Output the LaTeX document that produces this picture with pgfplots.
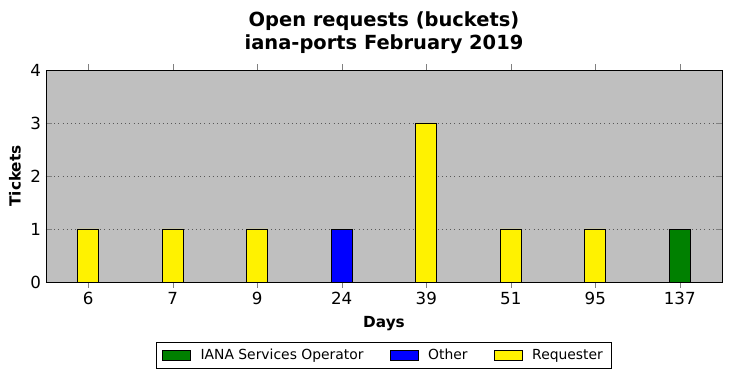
\documentclass[border=0pt]{standalone}
\usepackage{pgfplots}
\pgfplotsset{compat=1.18}
\usepackage{fontspec}
\setmainfont{DejaVu Sans}
\definecolor{bggray}{HTML}{BFBFBF}
\definecolor{mplgreen}{HTML}{008000}
\begin{document}
\begin{tikzpicture}[x=0.72pt,y=0.72pt]
\path (0,0) rectangle (732,378);
\begin{axis}[
  at={(33.12pt,69.12pt)}, anchor=south west,
  scale only axis, width=486.72pt, height=152.64pt,
  xmin=-0.5, xmax=7.5, ymin=0, ymax=4,
  xtick={0,...,7},
  xticklabels={6,7,9,24,39,51,95,137},
  ytick={0,1,2,3,4},
  tick align=inside, tick pos=both,
  major tick length=4pt,
  /pgf/number format/assume math mode=true,
  ticklabel style={font=\fontsize{12}{14}\selectfont},
  axis background/.style={fill=bggray},
  ymajorgrids, grid style={dash pattern=on 0.6pt off 2.4pt, gray!70!black, line width=0.5pt},
  axis line style={line width=0.7pt},
  title={\textbf{Open requests (buckets)}\\\textbf{iana-ports February 2019}},
  title style={align=center, font=\fontsize{14}{16}\selectfont, yshift=2.5pt},
  xlabel={\textbf{Days}}, ylabel={\textbf{Tickets}},
  label style={font=\fontsize{11}{13}\selectfont},
  xlabel style={yshift=-1pt}, ylabel style={yshift=0pt},
  ybar, bar width=0.25, bar shift=0pt,
  legend columns=3,
  legend style={at={(0.5,-0.3467)}, anchor=center, font=\fontsize{10}{12}\selectfont,
    draw=black, line width=0.6pt, inner xsep=4pt, inner ysep=3pt,
    /tikz/every odd column/.append style={column sep=5pt},
    /tikz/every even column/.append style={column sep=17pt}},
  legend image code/.code={\draw[#1, line width=0.6pt] (0cm,-0.12cm) rectangle (0.7cm,0.12cm);},
]
\addplot[fill=mplgreen, draw=black, line width=0.6pt] coordinates {(7,1)};
\addplot[fill=blue, draw=black, line width=0.6pt] coordinates {(3,1)};
\addplot[fill=yellow, draw=black, line width=0.6pt] coordinates {(0,1) (1,1) (2,1) (4,3) (5,1) (6,1)};
\legend{IANA Services Operator, Other, Requester}
\end{axis}
\end{tikzpicture}
\end{document}
